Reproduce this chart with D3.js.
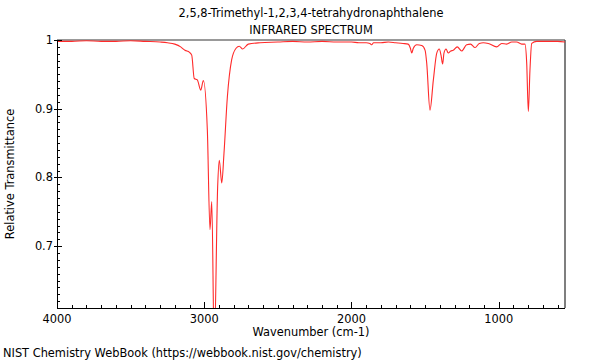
<!DOCTYPE html>
<html><head><meta charset="utf-8">
<script src="https://cdn.jsdelivr.net/npm/d3@7"></script>
<style>body{margin:0;background:#fff}svg{display:block}text{font-family:"DejaVu Sans",sans-serif}</style>
</head><body>
<svg id="c" width="600" height="360"></svg>
<script>
const titleLines = ["2,5,8-Trimethyl-1,2,3,4-tetrahydronaphthalene", "INFRARED SPECTRUM"];
const xLabel = "Wavenumber (cm-1)";
const yLabel = "Relative Transmittance";
const credit = "NIST Chemistry WebBook (https://webbook.nist.gov/chemistry)";
const xTicks = [4000, 3000, 2000, 1000];
const yTicks = [0.7, 0.8, 0.9, 1];
const yTickLabels = ["0.7", "0.8", "0.9", "1"];
const xDomain = [4000, 550];
const yDomain = [0.61, 1.0];

const wavenumber = [4000,3900,3800,3700,3600,3500,3400,3300,3250,3200,3160,3131,3100,3085,3068,3047,3024,3006,2979,2961,2949,2932,2909,2898,2881,2866,2843,2814,2784,2762,2739,2701,2621,2500,2400,2300,2200,2100,2000,1950,1900,1875,1863,1850,1800,1750,1700,1650,1615,1600,1591,1580,1557,1523,1500,1489,1467,1444,1421,1404,1392,1381,1372,1358,1343,1326,1309,1282,1252,1218,1191,1161,1132,1105,1071,1014,980,946,912,878,844,822,810,799,788,776,742,700,650,600,550];
const transmittance = [0.998,0.998,0.999,0.998,0.998,0.999,0.998,0.997,0.996,0.994,0.990,0.985,0.982,0.978,0.944,0.942,0.927,0.941,0.869,0.724,0.765,0.55,0.786,0.825,0.792,0.835,0.917,0.971,0.988,0.991,0.987,0.994,0.996,0.997,0.998,0.997,0.998,0.997,0.997,0.996,0.996,0.995,0.993,0.996,0.996,0.997,0.996,0.995,0.994,0.988,0.981,0.988,0.993,0.992,0.985,0.966,0.898,0.942,0.981,0.987,0.978,0.965,0.981,0.987,0.981,0.984,0.985,0.990,0.984,0.993,0.994,0.989,0.995,0.996,0.995,0.990,0.995,0.994,0.997,0.997,0.994,0.994,0.966,0.896,0.956,0.995,0.998,0.998,0.998,0.998,0.997];

const svg = d3.select("#c");
const m = {l:57, r:565, t:40, b:308};
const fs = 11.4;
const x = d3.scaleLinear().domain(xDomain).range([m.l, m.r]);
const y = d3.scaleLinear().domain(yDomain).range([m.b, m.t]);

svg.append("defs").append("clipPath").attr("id","clip")
  .append("rect").attr("x",m.l).attr("y",m.t-2).attr("width",m.r-m.l).attr("height",m.b-m.t+2);

// titles
svg.selectAll("text.title").data(titleLines).join("text")
  .attr("x",(m.l+m.r)/2).attr("y",(d,i)=>17+i*17)
  .attr("text-anchor","middle").attr("font-size",fs).attr("fill","#000").text(d=>d);

// frame top & right
svg.append("line").attr("x1",m.l).attr("x2",m.r).attr("y1",m.t).attr("y2",m.t)
  .attr("stroke","#999").attr("stroke-width",2);
svg.append("line").attr("x1",m.r).attr("x2",m.r).attr("y1",m.t).attr("y2",m.b)
  .attr("stroke","#555").attr("stroke-width",1.5);

// spectrum
const pts = wavenumber.map((w,i)=>[w, transmittance[i]]);
const line = d3.line().x(d=>x(d[0])).y(d=>y(d[1])).curve(d3.curveMonotoneX);
svg.append("path").attr("d",line(pts)).attr("clip-path","url(#clip)")
  .attr("fill","none").attr("stroke","#ff2a2a").attr("stroke-width",1.1);

// x axis
const gx = svg.append("g");
gx.append("line").attr("x1",m.l).attr("x2",m.r).attr("y1",m.b+0.5).attr("y2",m.b+0.5).attr("stroke","#000");
const xMinor = d3.range(3900, 550, -100).filter(v=>v%1000!==0);
gx.selectAll("line.mn").data(xMinor).join("line")
  .attr("x1",d=>Math.round(x(d))+0.5).attr("x2",d=>Math.round(x(d))+0.5)
  .attr("y1",m.b).attr("y2",m.b-3).attr("stroke","#000");
gx.selectAll("line.mj").data(xTicks).join("line")
  .attr("x1",d=>Math.round(x(d))+0.5).attr("x2",d=>Math.round(x(d))+0.5)
  .attr("y1",m.b).attr("y2",m.b-6).attr("stroke","#000");
gx.selectAll("text").data(xTicks).join("text")
  .attr("x",d=>x(d)).attr("y",m.b+15).attr("text-anchor","middle")
  .attr("font-size",fs).text(d=>d);
svg.append("text").attr("x",(m.l+m.r)/2).attr("y",m.b+28).attr("text-anchor","middle")
  .attr("font-size",fs).text(xLabel);

// y axis
const gy = svg.append("g");
gy.append("line").attr("x1",m.l+0.5).attr("x2",m.l+0.5).attr("y1",m.t).attr("y2",m.b).attr("stroke","#000");
const yMinor = d3.range(62, 100).map(v=>v/100).filter(v=>Math.round(v*100)%10!==0);
gy.selectAll("line.mn").data(yMinor).join("line")
  .attr("x1",m.l).attr("x2",m.l+3)
  .attr("y1",d=>Math.round(y(d))+0.5).attr("y2",d=>Math.round(y(d))+0.5).attr("stroke","#000");
gy.selectAll("line.mj").data(yTicks).join("line")
  .attr("x1",m.l-3).attr("x2",m.l+5)
  .attr("y1",d=>Math.round(y(d))+0.5).attr("y2",d=>Math.round(y(d))+0.5).attr("stroke","#000");
gy.selectAll("text").data(yTicks).join("text")
  .attr("x",m.l-4).attr("y",d=>y(d)+4).attr("text-anchor","end")
  .attr("font-size",fs).text((d,i)=>yTickLabels[i]);
svg.append("text").attr("transform",`translate(14,${(m.t+m.b)/2}) rotate(-90)`)
  .attr("text-anchor","middle").attr("font-size",fs).text(yLabel);

svg.append("text").attr("x",3).attr("y",357).attr("font-size",fs).text(credit);
</script>
</body></html>
